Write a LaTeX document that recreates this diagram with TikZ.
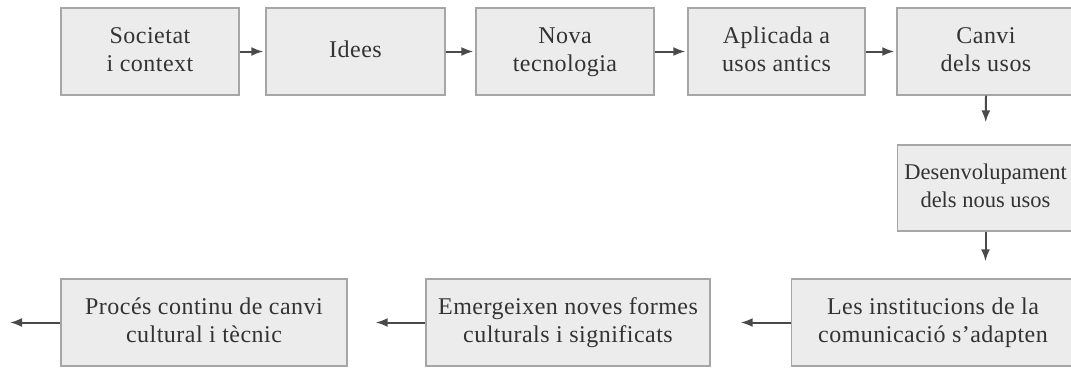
\documentclass[tikz,border=0pt]{standalone}
\usepackage{fontspec}
\setmainfont[LetterSpace=2]{Liberation Serif}
\newfontfamily\tightserif{Liberation Serif}
\usetikzlibrary{arrows.meta}
\definecolor{boxfill}{HTML}{ECECEC}
\definecolor{boxline}{HTML}{A6A6A6}
\definecolor{arrcol}{HTML}{4A4A4A}
\definecolor{txtcol}{HTML}{333333}
\tikzset{
  stepbox/.style={draw=boxline, fill=boxfill, line width=1.4pt, rectangle,
    inner sep=0pt, align=center, text=txtcol,
    font=\fontsize{24}{28}\selectfont},
  narrowbox/.style={stepbox, font=\tightserif\fontsize{22.5}{28}\selectfont},
  flowarrow/.style={draw=arrcol, line width=2pt,
    -{Latex[length=12pt,width=9pt]}}
}
\begin{document}
\begin{tikzpicture}[x=1pt,y=-1pt]
\useasboundingbox (0,0) rectangle (1071,367);
\fill[white] (0,0) rectangle (1071,367);
\clip (0,0) rectangle (1071,367);
% top row
\node[stepbox, minimum width=178pt, minimum height=87pt] (b1) at (150,51.5) {Societat\strut\\i context\strut};
\node[stepbox, minimum width=179pt, minimum height=87pt] (b2) at (355.5,51.5) {Idees\strut};
\node[stepbox, minimum width=178pt, minimum height=87pt] (b3) at (565,51.5) {Nova\strut\\tecnologia\strut};
\node[stepbox, minimum width=177pt, minimum height=87pt] (b4) at (776.5,51.5) {Aplicada a\strut\\usos antics\strut};
\node[stepbox, minimum width=178pt, minimum height=87pt] (b5) at (986,51.5) {Canvi\strut\\dels usos\strut};
% middle
\node[narrowbox, minimum width=176pt, minimum height=86pt] (b6) at (985.5,188) {Desenvolupament\strut\\dels nous usos\strut};
% bottom row
\node[stepbox, minimum width=283pt, minimum height=87pt] (b7) at (933,322.5) {Les institucions de la\strut\\comunicació s'adapten\strut};
\node[stepbox, minimum width=284pt, minimum height=87pt] (b8) at (568,322.5) {Emergeixen noves formes\strut\\culturals i significats\strut};
\node[stepbox, minimum width=286pt, minimum height=87pt] (b9) at (204,322.5) {Procés continu de canvi\strut\\cultural i tècnic\strut};
\coordinate (endpt) at (10,322.5);
% connectors
\draw[flowarrow, shorten >=2pt] (b1.east) -- (b2.west);
\draw[flowarrow, shorten >=2pt] (b2.east) -- (b3.west);
\draw[flowarrow, shorten >=2pt] (b3.east) -- (b4.west);
\draw[flowarrow, shorten >=2pt] (b4.east) -- (b5.west);
\draw[flowarrow, shorten >=22pt] (b5.south) -- (b6.north);
\draw[flowarrow, shorten >=17pt] (b6.south) -- (b6.south |- b7.north);
\draw[flowarrow, shorten >=30pt] (b7.west) -- (b8.east);
\draw[flowarrow, shorten >=28pt] (b8.west) -- (b9.east);
\draw[flowarrow] (b9.west) -- (endpt);
\end{tikzpicture}
\end{document}
